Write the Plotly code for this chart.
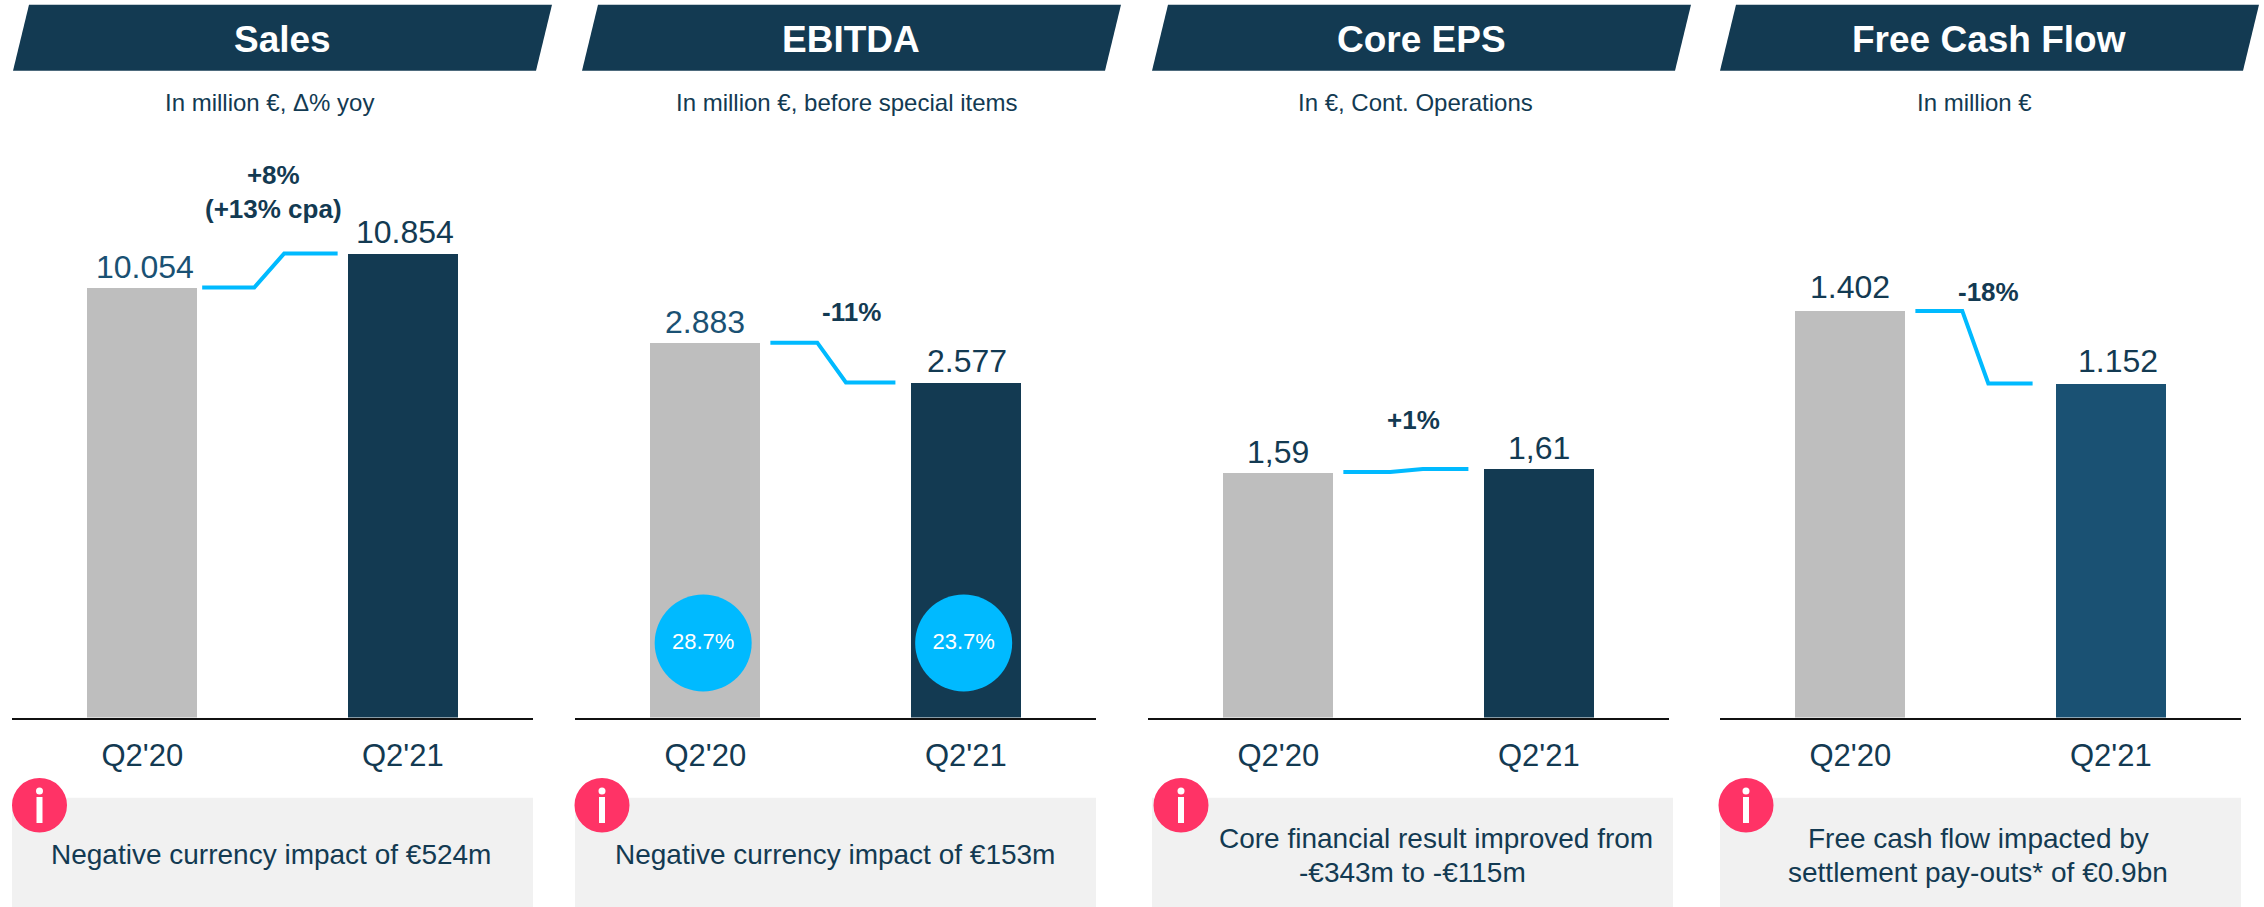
import plotly.graph_objects as go

# ---- data ----
categories = ["Q2'20", "Q2'21"]
panel_titles = ["Sales", "EBITDA", "Core EPS", "Free Cash Flow"]
panel_subtitles = ["In million €, Δ% yoy", "In million €, before special items",
                   "In €, Cont. Operations", "In million €"]
sales_values = [10054, 10854]
ebitda_values = [2883, 2577]
eps_values = [1.59, 1.61]
fcf_values = [1402, 1152]
sales_labels = ["10.054", "10.854"]
ebitda_labels = ["2.883", "2.577"]
eps_labels = ["1,59", "1,61"]
fcf_labels = ["1.402", "1.152"]
delta_labels = ["+8%<br>(+13% cpa)", "-11%", "+1%", "-18%"]
ebitda_margins = ["28.7%", "23.7%"]
notes = [["Negative currency impact of €524m"],
         ["Negative currency impact of €153m"],
         ["Core financial result improved from", "-€343m to -€115m"],
         ["Free cash flow impacted by", "settlement pay-outs* of €0.9bn"]]

# ---- layout constants ----
W, H = 2264, 907
FONT = "Liberation Sans"
DARK = "#133A52"
MID = "#1A5173"
GREY = "#BEBEBE"
CYAN = "#00BAFF"
PINK = "#FF3366"
BOX = "#F1F1F1"
BASE, TOP = 717.5, 117.5
AXIS_LEFT = [12, 575, 1148, 1720]
BOX_LEFT = [12, 575, 1152, 1720]
AXIS_WIDTH = 521
HEADER_LEFT = [13, 582, 1152, 1720]
ICON_X = [39.5, 602, 1181, 1746]
SUB_X = [269, 846, 1415, 1974]
DELTA_POS = [(273, 192), (851, 312), (1413, 420), (1988, 292)]
NOTE_X = [[271], [835], [1436, 1412], [1978, 1978]]
NOTE_Y = [[854], [854], [838, 872], [838, 872]]
Y_MAX = [14032, 4615, 3.886, 2069]
BAR_COLORS = [[GREY, DARK], [GREY, DARK], [GREY, DARK], [GREY, MID]]
LABEL_COLORS = [[MID, DARK], [MID, DARK], [DARK, DARK], [DARK, DARK]]
LABEL_SHIFT = [[3, 2], [0, 1], [0, 0], [0, 7]]
LABEL_LIFT = [[1, 1], [1, 1], [0, 1], [4, 2]]
CONNECT_X = [[.23, .43, .545, .75], [.25, .43, .54, .73],
             [.25, .43, .555, .73], [.25, .43, .53, .70]]


def px(x):
    return x / W


def py(y):
    return 1 - y / H


series = [sales_values, ebitda_values, eps_values, fcf_values]
labels = [sales_labels, ebitda_labels, eps_labels, fcf_labels]

fig = go.Figure()
shapes, annotations = [], []
layout_axes = {}


def paper_text(x, y, text, size, color):
    annotations.append(dict(x=px(x), y=py(y), xref="paper", yref="paper", text=text,
                            showarrow=False, xanchor="center", yanchor="middle",
                            font=dict(family=FONT, size=size, color=color)))


for i in range(4):
    n = "" if i == 0 else str(i + 1)
    xa, ya = "x" + n, "y" + n
    vals = series[i]
    fig.add_trace(go.Bar(x=[0, 1], y=vals, width=0.423, xaxis=xa, yaxis=ya,
                         marker=dict(color=BAR_COLORS[i], line=dict(width=0)),
                         showlegend=False, hoverinfo="skip"))
    # connector between the two bar levels
    fig.add_trace(go.Scatter(x=CONNECT_X[i], y=[vals[0], vals[0], vals[1], vals[1]],
                             xaxis=xa, yaxis=ya, mode="lines",
                             line=dict(color=CYAN, width=4),
                             showlegend=False, hoverinfo="skip"))
    layout_axes["xaxis" + n] = dict(
        domain=[px(AXIS_LEFT[i]), px(AXIS_LEFT[i] + AXIS_WIDTH)], range=[-0.5, 1.5],
        anchor=ya, tickmode="array", tickvals=[0, 1], ticktext=categories,
        tickfont=dict(family=FONT, size=31, color=DARK), ticks="outside", ticklen=10,
        tickcolor="rgba(0,0,0,0)", showgrid=False, zeroline=False,
        showline=True, linecolor="#111111", linewidth=1.5, fixedrange=True)
    layout_axes["yaxis" + n] = dict(
        domain=[py(BASE), py(TOP)], range=[0, Y_MAX[i]], anchor=xa, visible=False,
        fixedrange=True)

    # value labels
    for j in range(2):
        annotations.append(dict(x=j, y=vals[j], xref=xa, yref=ya, text=labels[i][j],
                                showarrow=False, yanchor="bottom", xanchor="center",
                                xshift=LABEL_SHIFT[i][j], yshift=LABEL_LIFT[i][j],
                                font=dict(family=FONT, size=32, color=LABEL_COLORS[i][j])))

    # header parallelogram
    h = HEADER_LEFT[i]
    shapes.append(dict(type="path", xref="paper", yref="paper", line=dict(width=0),
                       fillcolor=DARK, layer="below",
                       path=f"M{px(h)},{py(70.7)} L{px(h + 16)},{py(4.7)} "
                            f"L{px(h + 539)},{py(4.7)} L{px(h + 523)},{py(70.7)} Z"))
    paper_text(h + 269, 39.5, f"<b>{panel_titles[i]}</b>", 37, "white")
    paper_text(SUB_X[i], 102.5, panel_subtitles[i], 24, DARK)
    paper_text(DELTA_POS[i][0], DELTA_POS[i][1], f"<b>{delta_labels[i]}</b>", 26, DARK)

    # note box
    a = BOX_LEFT[i]
    shapes.append(dict(type="rect", xref="paper", yref="paper", layer="below",
                       x0=px(a), x1=px(a + AXIS_WIDTH), y0=py(907), y1=py(797.7),
                       line=dict(width=0), fillcolor=BOX))
    for line, lx, ly in zip(notes[i], NOTE_X[i], NOTE_Y[i]):
        paper_text(lx, ly, line, 28, DARK)

    # info icon
    c = ICON_X[i]
    shapes.append(dict(type="circle", xref="paper", yref="paper", line=dict(width=0),
                       fillcolor=PINK, x0=px(c - 27.5), x1=px(c + 27.5),
                       y0=py(832.5), y1=py(778)))
    shapes.append(dict(type="circle", xref="paper", yref="paper", line=dict(width=0),
                       fillcolor="white", x0=px(c - 3.5), x1=px(c + 3.5),
                       y0=py(794.5), y1=py(787.5)))
    shapes.append(dict(type="rect", xref="paper", yref="paper", line=dict(width=0),
                       fillcolor="white", x0=px(c - 3), x1=px(c + 3),
                       y0=py(823), y1=py(797)))

# EBITDA margin bubbles
fig.add_trace(go.Scatter(x=[-0.008, 0.992], y=[573, 573], xaxis="x2", yaxis="y2",
                         mode="markers+text", text=ebitda_margins,
                         textposition="middle center",
                         textfont=dict(family=FONT, size=22, color="white"),
                         marker=dict(size=97, color=CYAN, line=dict(width=0)),
                         showlegend=False, hoverinfo="skip"))

fig.update_layout(width=W, height=H, margin=dict(l=0, r=0, t=0, b=0),
                  paper_bgcolor="white", plot_bgcolor="white", bargap=0,
                  shapes=shapes, annotations=annotations, **layout_axes)

fig.write_html("out.html", config={"displayModeBar": False},
               post_script="document.body.style.margin='0';document.body.style.overflow='hidden';")
